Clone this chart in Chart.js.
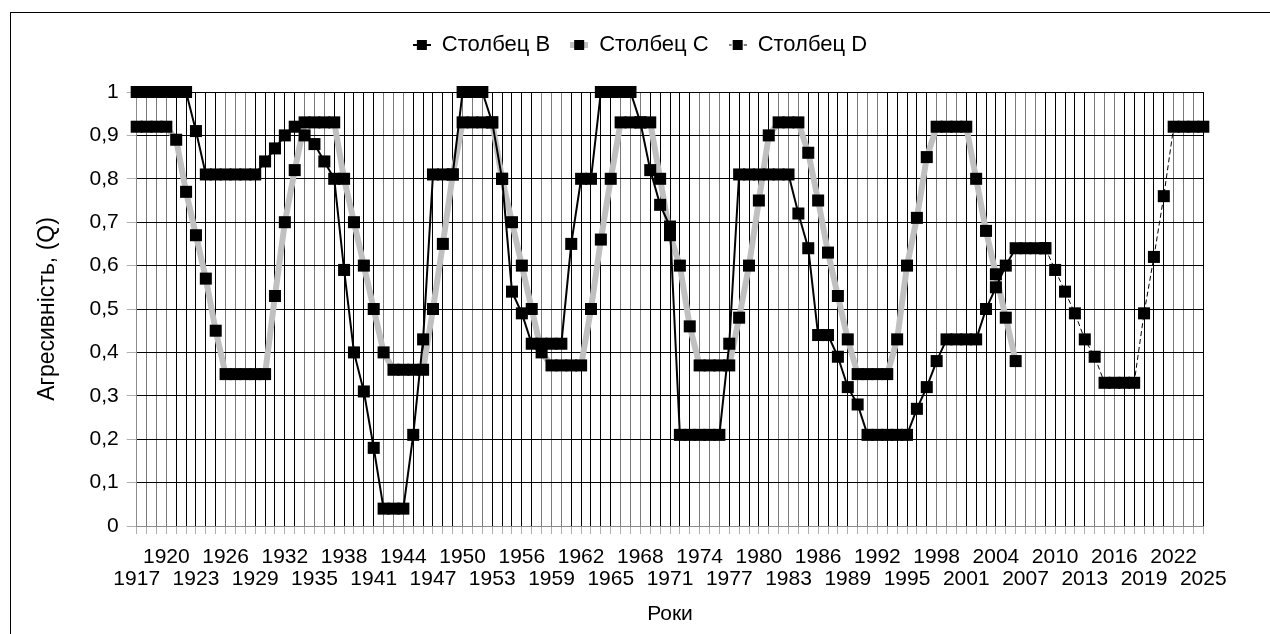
<!DOCTYPE html>
<html>
<head>
<meta charset="utf-8">
<script src="https://cdn.jsdelivr.net/npm/chart.js@4.4.1/dist/chart.umd.min.js"></script>
<style>
html,body{margin:0;padding:0;background:#fff;}
#wrap{width:1270px;height:634px;position:relative;}
</style>
</head>
<body>
<div id="wrap"><canvas id="c" width="1270" height="634"></canvas></div>
<script>
// ---------- DATA ----------
const categories = [
'1917','1918','1919','1920','1921','1922','1923','1924','1925','1926',
'1927','1928','1929','1930','1931','1932','1933','1934','1935','1936',
'1937','1938','1939','1940','1941','1942','1943','1944','1945','1946',
'1947','1948','1949','1950','1951','1952','1953','1954','1955','1956',
'1957','1958','1959','1960','1961','1962','1963','1964','1965','1966',
'1967','1968','1969','1970','1971','1972','1973','1974','1975','1976',
'1977','1978','1979','1980','1981','1982','1983','1984','1985','1986',
'1987','1988','1989','1990','1991','1992','1993','1994','1995','1996',
'1997','1998','1999','2000','2001','2002','2003','2004','2005','2006',
'2007','2008','2009','2010','2011','2012','2013','2014','2015','2016',
'2017','2018','2019','2020','2021','2022','2023','2024','2025'];

// Столбец B : 1917 .. 2009
const columnB = [
1,1,1,1,1,1,0.91,0.81,0.81,0.81,
0.81,0.81,0.81,0.84,0.87,0.90,0.92,0.90,0.88,0.84,
0.80,0.59,0.40,0.31,0.18,0.04,0.04,0.04,0.21,0.43,
0.81,0.81,0.81,1,1,1,0.93,0.80,0.54,0.49,
0.42,0.42,0.42,0.42,0.65,0.80,0.80,1,1,1,
1,0.93,0.82,0.74,0.69,0.21,0.21,0.21,0.21,0.21,
0.42,0.81,0.81,0.81,0.81,0.81,0.81,0.72,0.64,0.44,
0.44,0.39,0.32,0.28,0.21,0.21,0.21,0.21,0.21,0.27,
0.32,0.38,0.43,0.43,0.43,0.43,0.50,0.55,0.60,0.64,
0.64,0.64,0.64];

// Столбец C : 1917 .. 2006
const columnC = [
0.92,0.92,0.92,0.92,0.89,0.77,0.67,0.57,0.45,0.35,
0.35,0.35,0.35,0.35,0.53,0.70,0.82,0.93,0.93,0.93,
0.93,0.80,0.70,0.60,0.50,0.40,0.36,0.36,0.36,0.36,
0.50,0.65,0.81,0.93,0.93,0.93,0.93,0.80,0.70,0.60,
0.50,0.40,0.37,0.37,0.37,0.37,0.50,0.66,0.80,0.93,
0.93,0.93,0.93,0.80,0.67,0.60,0.46,0.37,0.37,0.37,
0.37,0.48,0.60,0.75,0.90,0.93,0.93,0.93,0.86,0.75,
0.63,0.53,0.43,0.35,0.35,0.35,0.35,0.43,0.60,0.71,
0.85,0.92,0.92,0.92,0.92,0.80,0.68,0.58,0.48,0.38];

// Столбец D : 2009 .. 2025
const yearsD = ['2009','2010','2011','2012','2013','2014','2015','2016','2017',
'2018','2019','2020','2021','2022','2023','2024','2025'];
const columnD = [0.64,0.59,0.54,0.49,0.43,0.39,0.33,0.33,0.33,
0.33,0.49,0.62,0.76,0.92,0.92,0.92,0.92];

const yTickLabels = ['0','0,1','0,2','0,3','0,4','0,5','0,6','0,7','0,8','0,9','1'];
const seriesNames = ['Столбец B','Столбец C','Столбец D'];
const yTitle = 'Агресивність, (Q)';
const xTitle = 'Роки';

const dataD = categories.map(y => { const k = yearsD.indexOf(y); return k < 0 ? null : columnD[k]; });

// ---------- STYLE ----------
const FONT = "'Liberation Sans', Arial, sans-serif";
const TICK_FS = 21;
Chart.defaults.font.family = FONT;
Chart.defaults.font.size = TICK_FS;
Chart.defaults.color = '#000';

function makeIcon(lineColor, lineWidth, dash) {
  const c = document.createElement('canvas');
  c.width = 18; c.height = 12;
  const g = c.getContext('2d');
  g.strokeStyle = lineColor; g.lineWidth = lineWidth;
  if (dash) g.setLineDash(dash);
  g.beginPath(); g.moveTo(0, 6); g.lineTo(18, 6); g.stroke();
  g.fillStyle = '#000'; g.fillRect(4, 1, 10, 10);
  return c;
}
const legendIcons = [makeIcon('#000', 2), makeIcon('#c0c0c0', 6), makeIcon('#000', 1, [3, 2])];

const LEGEND_TOP = 14, PLOT_TOP = 92, PLOT_BOTTOM = 526, PLOT_LEFT = 136.7, PLOT_RIGHT = 1203.3;

const framePlugin = {
  id: 'frame',
  beforeDraw(chart) {
    const ctx = chart.ctx;
    ctx.save();
    ctx.fillStyle = '#fff';
    ctx.fillRect(0, 0, chart.width, chart.height);
    ctx.strokeStyle = '#000';
    ctx.lineWidth = 1;
    ctx.strokeRect(10.5, 12.5, 2000, 2000);
    ctx.restore();
  },
  beforeLayout(chart) {
    const lg = chart.legend;
    if (lg && !lg._fixed) {
      const f = lg.fit;
      lg.fit = function () { f.call(this); this.height = PLOT_TOP - LEGEND_TOP; };
      lg._fixed = true;
    }
  }
};

const pointOpts = { pointStyle: 'rect', pointRadius: 8.5, pointBorderWidth: 0, pointBackgroundColor: '#000', pointBorderColor: '#000' };

new Chart(document.getElementById('c'), {
  type: 'line',
  data: {
    labels: categories,
    datasets: [
      Object.assign({ label: seriesNames[0], data: columnB, borderColor: '#000', borderWidth: 2 }, pointOpts),
      Object.assign({ label: seriesNames[1], data: columnC, borderColor: '#c0c0c0', borderWidth: 6 }, pointOpts),
      Object.assign({ label: seriesNames[2], data: dataD, borderColor: '#000', borderWidth: 1, borderDash: [5, 3] }, pointOpts)
    ]
  },
  options: {
    responsive: false,
    animation: false,
    events: [],
    devicePixelRatio: 1,
    layout: { padding: { top: LEGEND_TOP, left: 10, right: 0, bottom: 0 } },
    elements: { line: { tension: 0 } },
    datasets: { line: { clip: false } },
    plugins: {
      tooltip: { enabled: false },
      legend: {
        position: 'top',
        align: 'center',
        labels: {
          usePointStyle: true,
          pointStyleWidth: 18,
          padding: 20,
          font: { size: 22 },
          color: '#000',
          generateLabels: (chart) => chart.data.datasets.map((ds, i) => ({
            text: ds.label, pointStyle: legendIcons[i], fillStyle: '#000', strokeStyle: '#000',
            lineWidth: 0, hidden: false, datasetIndex: i, fontColor: '#000'
          }))
        }
      }
    },
    scales: {
      x: {
        type: 'category',
        offset: false,
        grid: {
          display: true,
          drawTicks: true,
          tickLength: 8,
          tickColor: '#b0b0b0',
          lineWidth: 1,
          color: (c) => {
            if (c.type !== 'tick') return '#000';
            if (c.index === 0) return '#8c8c8c';
            const px = c.scale.getPixelForTick(c.index);
            const f = px - Math.floor(px);
            return (f > 0.3 && f < 0.7) ? '#7a7a7a' : '#000';
          }
        },
        border: { display: true, color: '#8c8c8c', width: 1 },
        ticks: {
          autoSkip: false, maxRotation: 0, minRotation: 0, padding: 12,
          font: { size: TICK_FS, lineHeight: 1.05 }, color: '#000',
          callback: (v, i) => (i % 6 === 0) ? ['', categories[i]] : ((i % 6 === 3) ? categories[i] : '')
        },
        title: { display: true, text: xTitle, font: { size: 21, lineHeight: 1.2 }, color: '#000', padding: { top: 0, bottom: 7 } },
        afterFit: (s) => { s.height = 634 - PLOT_BOTTOM; }
      },
      y: {
        min: 0, max: 1,
        ticks: {
          stepSize: 0.1, padding: 8, font: { size: TICK_FS }, color: '#000',
          callback: (v, i) => yTickLabels[i]
        },
        grid: {
          drawTicks: true, tickLength: 10, tickColor: '#b0b0b0',
          color: (c) => (c.type === 'tick' && c.index === 0) ? '#8c8c8c' : '#000'
        },
        border: { display: true, color: '#8c8c8c', width: 1 },
        title: { display: true, text: yTitle, font: { size: 23, lineHeight: 1.2 }, color: '#000', padding: { top: 24, bottom: 0 } },
        afterFit: (s) => { s.width = PLOT_LEFT - 10; }
      },
      yRight: {
        type: 'linear', position: 'right', display: true,
        grid: { display: false, drawTicks: false },
        ticks: { display: false },
        border: { display: false },
        afterFit: (s) => { s.width = 1270 - PLOT_RIGHT; }
      }
    }
  },
  plugins: [framePlugin]
});
</script>
</body>
</html>
